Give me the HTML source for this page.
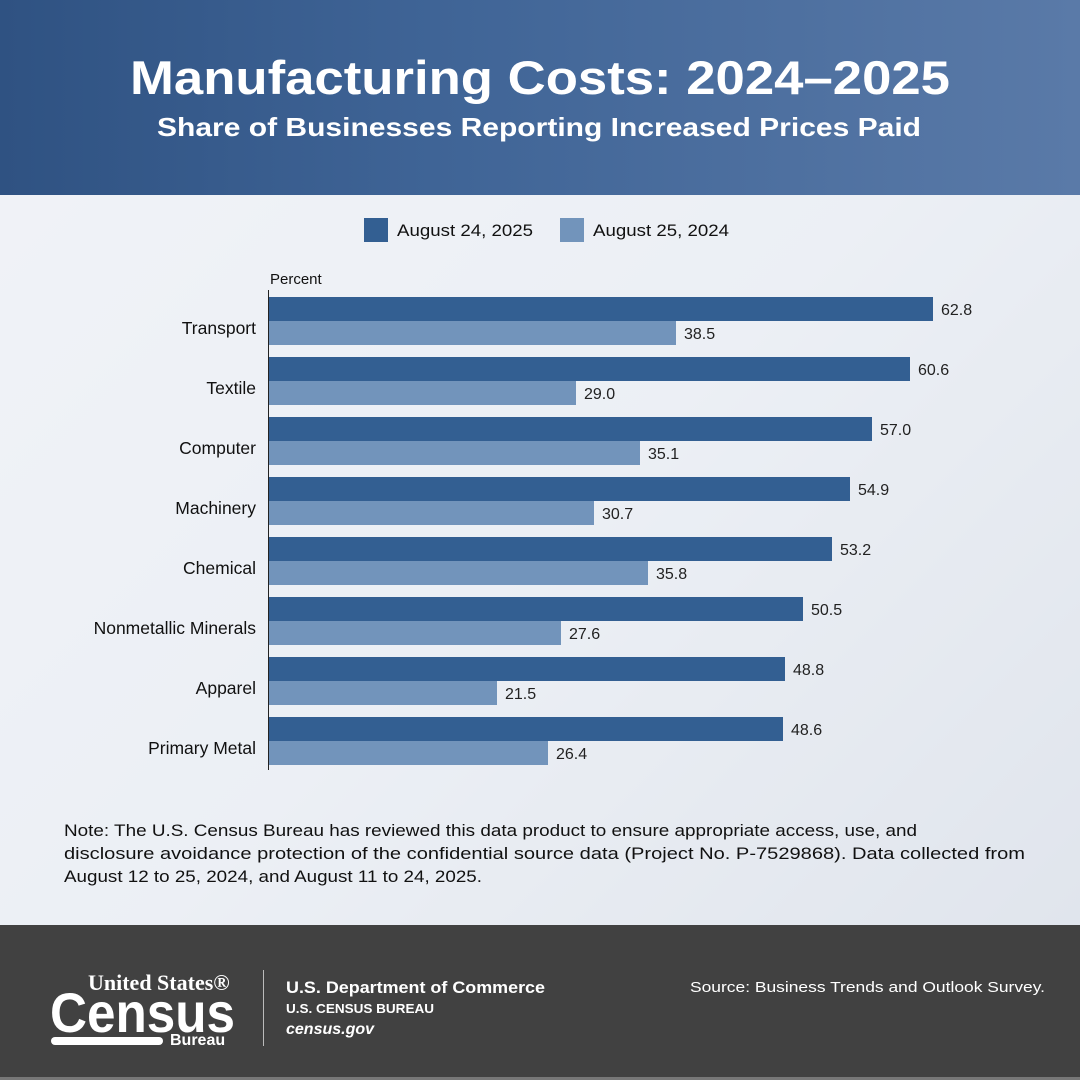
<!DOCTYPE html>
<html><head><meta charset="utf-8"><style>
html,body{margin:0;padding:0;width:1080px;height:1080px;overflow:hidden;font-family:"Liberation Sans",sans-serif}
</style></head><body>
<svg width="1080" height="1080" xmlns="http://www.w3.org/2000/svg" font-family="Liberation Sans, sans-serif">
<defs>
<linearGradient id="hd" x1="0" y1="0" x2="1" y2="0">
<stop offset="0" stop-color="#2f5282"/><stop offset="0.4" stop-color="#3f6496"/><stop offset="1" stop-color="#5a7aa8"/>
</linearGradient>
<linearGradient id="bg" x1="0" y1="0" x2="1" y2="1">
<stop offset="0" stop-color="#eef1f6"/><stop offset="0.5" stop-color="#e4e9f0"/><stop offset="1" stop-color="#c9d1dd"/>
</linearGradient>
</defs>
<rect width="1080" height="1080" fill="url(#bg)"/>
<rect x="0" y="195" width="1080" height="730" fill="#f4f6f9" opacity="0.5"/>
<rect x="0" y="0" width="1080" height="195" fill="url(#hd)"/>
<text x="130" y="94" fill="#fff" font-size="47" font-weight="bold" textLength="820" lengthAdjust="spacingAndGlyphs">Manufacturing Costs: 2024–2025</text>
<text x="157" y="136" fill="#fff" font-size="26" font-weight="bold" textLength="764" lengthAdjust="spacingAndGlyphs">Share of Businesses Reporting Increased Prices Paid</text>

<rect x="364" y="218" width="24" height="24" fill="#335f92"/>
<text x="397" y="236" font-size="17" fill="#111" textLength="136" lengthAdjust="spacingAndGlyphs">August 24, 2025</text>
<rect x="560" y="218" width="24" height="24" fill="#7294bb"/>
<text x="593" y="236" font-size="17" fill="#111" textLength="136" lengthAdjust="spacingAndGlyphs">August 25, 2024</text>
<text x="270" y="284" font-size="15" fill="#111">Percent</text>
<line x1="268.5" y1="290" x2="268.5" y2="770" stroke="#222" stroke-width="1"/>

<g font-size="16" fill="#222">
<rect x="269" y="297" width="664" height="24" fill="#335f92"/><rect x="269" y="321" width="407" height="24" fill="#7294bb"/>
<text x="941" y="315">62.8</text><text x="684" y="339">38.5</text>
<text x="256" y="334" text-anchor="end" fill="#111" font-size="17.5">Transport</text>

<rect x="269" y="357" width="641" height="24" fill="#335f92"/><rect x="269" y="381" width="307" height="24" fill="#7294bb"/>
<text x="918" y="375">60.6</text><text x="584" y="399">29.0</text>
<text x="256" y="394" text-anchor="end" fill="#111" font-size="17.5">Textile</text>

<rect x="269" y="417" width="603" height="24" fill="#335f92"/><rect x="269" y="441" width="371" height="24" fill="#7294bb"/>
<text x="880" y="435">57.0</text><text x="648" y="459">35.1</text>
<text x="256" y="454" text-anchor="end" fill="#111" font-size="17.5">Computer</text>

<rect x="269" y="477" width="581" height="24" fill="#335f92"/><rect x="269" y="501" width="325" height="24" fill="#7294bb"/>
<text x="858" y="495">54.9</text><text x="602" y="519">30.7</text>
<text x="256" y="514" text-anchor="end" fill="#111" font-size="17.5">Machinery</text>

<rect x="269" y="537" width="563" height="24" fill="#335f92"/><rect x="269" y="561" width="379" height="24" fill="#7294bb"/>
<text x="840" y="555">53.2</text><text x="656" y="579">35.8</text>
<text x="256" y="574" text-anchor="end" fill="#111" font-size="17.5">Chemical</text>

<rect x="269" y="597" width="534" height="24" fill="#335f92"/><rect x="269" y="621" width="292" height="24" fill="#7294bb"/>
<text x="811" y="615">50.5</text><text x="569" y="639">27.6</text>
<text x="256" y="634" text-anchor="end" fill="#111" font-size="17.5">Nonmetallic Minerals</text>

<rect x="269" y="657" width="516" height="24" fill="#335f92"/><rect x="269" y="681" width="228" height="24" fill="#7294bb"/>
<text x="793" y="675">48.8</text><text x="505" y="699">21.5</text>
<text x="256" y="694" text-anchor="end" fill="#111" font-size="17.5">Apparel</text>

<rect x="269" y="717" width="514" height="24" fill="#335f92"/><rect x="269" y="741" width="279" height="24" fill="#7294bb"/>
<text x="791" y="735">48.6</text><text x="556" y="759">26.4</text>
<text x="256" y="754" text-anchor="end" fill="#111" font-size="17.5">Primary Metal</text>
</g>

<g font-size="17" fill="#111">
<text x="64" y="836" textLength="853" lengthAdjust="spacingAndGlyphs">Note: The U.S. Census Bureau has reviewed this data product to ensure appropriate access, use, and</text>
<text x="64" y="859" textLength="961" lengthAdjust="spacingAndGlyphs">disclosure avoidance protection of the confidential source data (Project No. P-7529868). Data collected from</text>
<text x="64" y="882" textLength="418" lengthAdjust="spacingAndGlyphs">August 12 to 25, 2024, and August 11 to 24, 2025.</text>
</g>

<rect x="0" y="925" width="1080" height="155" fill="#414141"/>
<rect x="0" y="1077" width="1080" height="3" fill="#777"/>
<text x="88" y="990" fill="#fff" font-size="22" font-family="Liberation Serif, serif" font-weight="bold">United States®</text>
<text x="50" y="1032" fill="#fff" font-size="56" font-weight="bold" textLength="185" lengthAdjust="spacingAndGlyphs">Census</text>
<rect x="51" y="1037" width="112" height="8" rx="4" fill="#fff"/>
<text x="170" y="1045" fill="#fff" font-size="16" font-weight="bold">Bureau</text>
<line x1="263.5" y1="970" x2="263.5" y2="1046" stroke="#bbb" stroke-width="1"/>
<text x="286" y="993" fill="#fff" font-size="17" font-weight="bold" textLength="259" lengthAdjust="spacingAndGlyphs">U.S. Department of Commerce</text>
<text x="286" y="1013" fill="#fff" font-size="13" font-weight="bold" textLength="148" lengthAdjust="spacingAndGlyphs">U.S. CENSUS BUREAU</text>
<text x="286" y="1034" fill="#fff" font-size="16" font-style="italic" font-weight="bold">census.gov</text>
<text x="1045" y="992" text-anchor="end" fill="#fff" font-size="15" textLength="355" lengthAdjust="spacingAndGlyphs">Source: Business Trends and Outlook Survey.</text>
</svg>
</body></html>
